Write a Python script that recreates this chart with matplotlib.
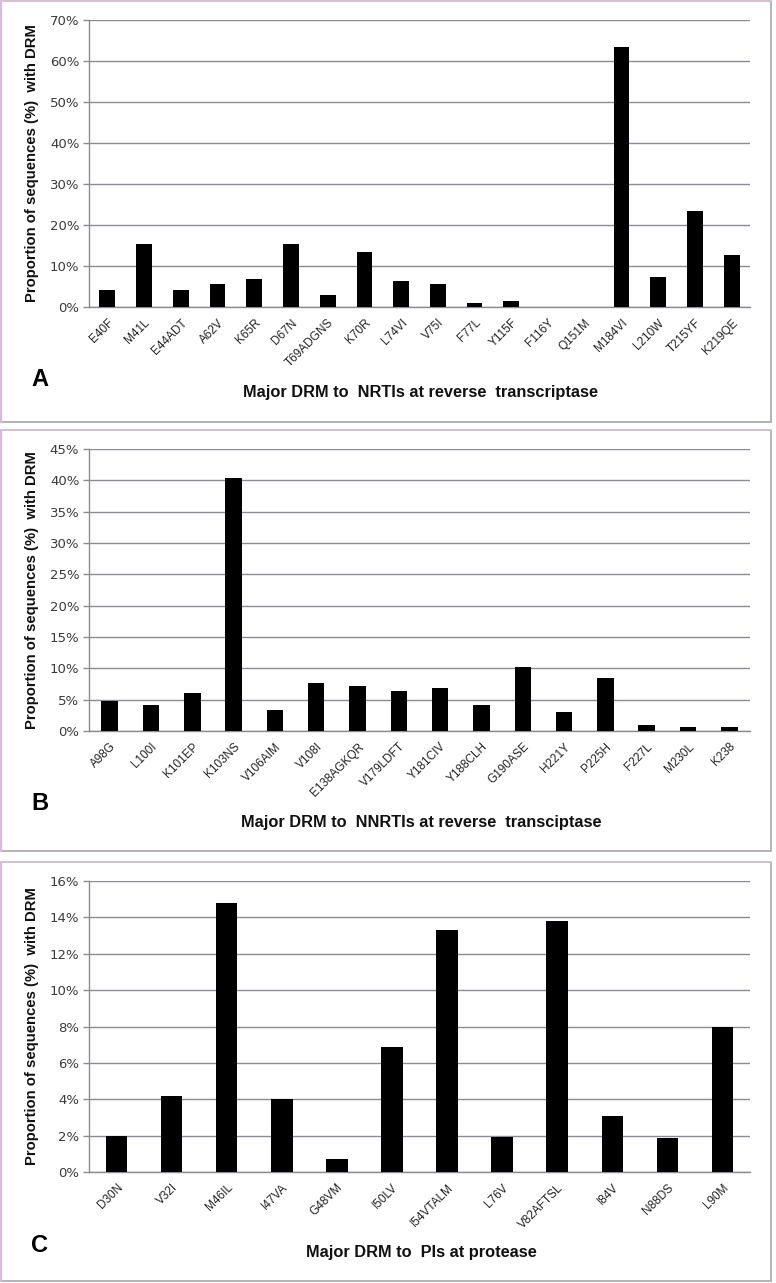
import matplotlib
matplotlib.use("Agg")
import matplotlib.pyplot as plt
from matplotlib.patches import Rectangle
from matplotlib.ticker import FuncFormatter
from matplotlib.lines import Line2D

W, H = 776, 1283

# ---------------- data ----------------
nrti_labels = ["E40F", "M41L", "E44ADT", "A62V", "K65R", "D67N", "T69ADGNS", "K70R", "L74VI",
               "V75I", "F77L", "Y115F", "F116Y", "Q151M", "M184VI", "L210W", "T215YF", "K219QE"]
nrti_values = [4.1, 15.4, 4.1, 5.7, 6.7, 15.4, 3.0, 13.5, 6.3,
               5.7, 1.0, 1.4, 0.0, 0.0, 63.4, 7.3, 23.3, 12.6]

nnrti_labels = ["A98G", "L100I", "K101EP", "K103NS", "V106AIM", "V108I", "E138AGKQR", "V179LDFT",
                "Y181CIV", "Y188CLH", "G190ASE", "H221Y", "P225H", "F227L", "M230L", "K238"]
nnrti_values = [4.8, 4.2, 6.0, 40.3, 3.3, 7.6, 7.2, 6.4,
                6.8, 4.2, 10.2, 3.1, 8.4, 0.9, 0.7, 0.7]

pi_labels = ["D30N", "V32I", "M46IL", "I47VA", "G48VM", "I50LV", "I54VTALM", "L76V",
             "V82AFTSL", "I84V", "N88DS", "L90M"]
pi_values = [2.0, 4.2, 14.8, 4.0, 0.73, 6.9, 13.3, 1.95, 13.8, 3.1, 1.85, 8.0]

ylimits = [70, 45, 16]
ysteps = [10, 5, 2]
panel_letters = ["A", "B", "C"]
xlabels = ["Major DRM to  NRTIs at reverse  transcriptase",
           "Major DRM to  NNRTIs at reverse  transciptase",
           "Major DRM to  PIs at protease"]
ylabel = "Proportion of sequences (%)  with DRM"

# ---------------- layout (pixels) ----------------
axes_px = [(89, 750, 19.5, 307), (89, 750, 449, 731), (89, 750, 881, 1172)]
boxes_px = [(1, 771, 1, 422), (1, 771, 430, 851), (1, 771, 862, 1281)]
bar_widths = [0.43, 0.40, 0.39]
letter_y = [380, 803, 1245]
xlabel_y = [393, 822, 1253]
xlabel_x = [421, 421, 421]

fig = plt.figure(figsize=(W / 100, H / 100), dpi=100)
fig.patch.set_facecolor("white")

# panel boxes
for (x0, x1, y0, y1) in boxes_px:
    r = Rectangle((x0 / W, 1 - y1 / H), (x1 - x0) / W, (y1 - y0) / H,
                  transform=fig.transFigure, fill=False, edgecolor="#a9a6ab", linewidth=1.2)
    fig.add_artist(r)
    fig.add_artist(Line2D([x0 / W, x0 / W], [1 - y1 / H, 1 - y0 / H], transform=fig.transFigure,
                          color="#d6b8e4", linewidth=1.6))
    fig.add_artist(Line2D([x0 / W, x1 / W], [1 - y0 / H, 1 - y0 / H], transform=fig.transFigure,
                          color="#d9c4d6", linewidth=1.2))

datasets = [(nrti_labels, nrti_values), (nnrti_labels, nnrti_values), (pi_labels, pi_values)]
grid_color = "#8d8a96"

for i, ((labels, values), (x0, x1, y0, y1)) in enumerate(zip(datasets, axes_px)):
    ax = fig.add_axes([x0 / W, 1 - y1 / H, (x1 - x0) / W, (y1 - y0) / H])
    n = len(labels)
    pos = list(range(n))
    ax.bar(pos, values, width=bar_widths[i], color="black", zorder=3)
    ax.set_xlim(-0.5, n - 0.5)
    ax.set_ylim(0, ylimits[i])
    ax.set_yticks(list(range(0, ylimits[i] + 1, ysteps[i])))
    ax.yaxis.set_major_formatter(FuncFormatter(lambda v, p: f"{int(v)}%"))
    ax.yaxis.grid(True, color=grid_color, linewidth=1.0, zorder=0)
    ax.set_axisbelow(True)
    for s in ["top", "right"]:
        ax.spines[s].set_visible(False)
    ax.spines["left"].set_color(grid_color)
    ax.spines["bottom"].set_color(grid_color)
    ax.spines["left"].set_linewidth(1.0)
    ax.spines["bottom"].set_linewidth(1.0)
    ax.tick_params(axis="y", direction="out", length=4, color=grid_color, width=1.0,
                   labelsize=9.5, labelcolor="#3a3a3a", pad=3)
    for t in ax.get_yticklabels():
        t.set_family("DejaVu Sans")
    ax.set_xticks(pos)
    ax.set_xticklabels(labels, rotation=45, ha="right", rotation_mode="anchor",
                       fontsize=8.5, family="Liberation Sans", color="#222222")
    ax.tick_params(axis="x", length=0, pad=7)
    ax.set_facecolor("white")

    yc = 1 - (y0 + y1) / 2 / H
    fig.text(32 / W, yc, ylabel, rotation=90, ha="center", va="center",
             fontsize=10.7, fontweight="bold", family="Liberation Sans", color="#111111")
    fig.text(40 / W, 1 - letter_y[i] / H, panel_letters[i], ha="center", va="center",
             fontsize=17, fontweight="bold", family="Liberation Sans", color="black")
    fig.text(xlabel_x[i] / W, 1 - xlabel_y[i] / H, xlabels[i], ha="center", va="center",
             fontsize=11.8, fontweight="bold", family="Liberation Sans", color="#111111")

fig.savefig("out.png", dpi=100, facecolor="white")
